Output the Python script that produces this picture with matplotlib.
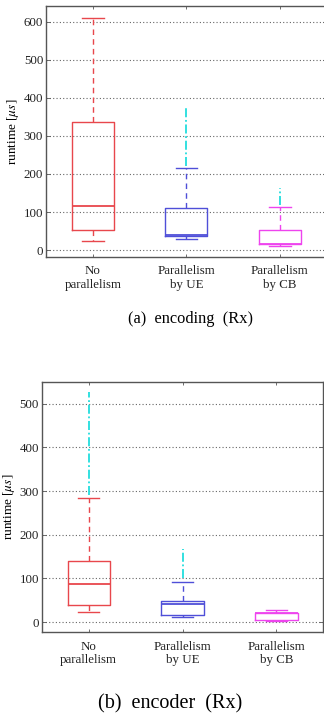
import matplotlib
matplotlib.use('Agg')
import matplotlib.pyplot as plt

plt.rcParams['font.family'] = ['Liberation Serif', 'DejaVu Serif']
plt.rcParams['mathtext.fontset'] = 'stix'

# categories
labels = ['No\nparallelism', 'Parallelism\nby UE', 'Parallelism\nby CB']
colors = ['#e8474c', '#4f4fd8', '#ee44ee']
flier_color = '#22dddd'

# (a) encoding (Rx) -- box statistics [us]
enc_whislo = [24, 28, 10]
enc_q1 = [54, 38, 17]
enc_med = [116, 41, 17]
enc_q3 = [337, 111, 54]
enc_whishi = [609, 217, 112]
enc_flier_lo = [None, 220, 118]
enc_flier_hi = [None, 375, 162]

# (b) encoder (Rx)
dec_whislo = [24, 13, 3]
dec_q1 = [39, 17, 5]
dec_med = [88, 41, 20]
dec_q3 = [139, 49, 22]
dec_whishi = [284, 93, 28]
dec_flier_lo = [290, 100, None]
dec_flier_hi = [526, 168, None]


def draw_box(ax, whislo, q1, med, q3, whishi, flo, fhi, ylim, yticks):
    stats = []
    for i in range(len(labels)):
        stats.append({'whislo': whislo[i], 'q1': q1[i], 'med': med[i],
                      'q3': q3[i], 'whishi': whishi[i], 'fliers': []})
    pos = [1, 2, 3]
    art = ax.bxp(stats, positions=pos, widths=0.45, capwidths=0.23,
                 showfliers=False, patch_artist=False,
                 whiskerprops=dict(linestyle=(0, (4, 3)), linewidth=1.0),
                 capprops=dict(linewidth=1.0),
                 boxprops=dict(linewidth=1.0),
                 medianprops=dict(linewidth=1.3))
    for i, c in enumerate(colors):
        art['boxes'][i].set_color(c)
        art['medians'][i].set_color(c)
        art['whiskers'][2 * i].set_color(c)
        art['whiskers'][2 * i + 1].set_color(c)
        art['caps'][2 * i].set_color(c)
        art['caps'][2 * i + 1].set_color(c)
        if flo[i] is not None:
            ax.vlines(pos[i], flo[i], fhi[i], colors=flier_color,
                      linestyles=(0, (5, 1.5, 1, 1.5)), linewidth=1.3, zorder=3)
    ax.set_xlim(0.5, 3.5)
    ax.set_ylim(*ylim)
    ax.set_yticks(yticks)
    ax.set_xticks(pos)
    ax.set_xticklabels(labels, fontsize=9.3, linespacing=1.2)
    ax.tick_params(axis='both', direction='in', length=3, width=0.6,
                   colors='#555555', labelcolor='#222222', labelsize=9.3,
                   top=True, right=True)
    ax.tick_params(axis='x', pad=6, length=2)
    ax.tick_params(axis='y', pad=2)
    ax.yaxis.grid(True, linestyle=(0, (1, 2)), color='#666666', linewidth=0.8)
    ax.set_axisbelow(True)
    for s in ax.spines.values():
        s.set_color('#555555')
        s.set_linewidth(1.0)
    ax.set_ylabel(r'runtime [$\mu s$]', fontsize=9.5, labelpad=2)


fig = plt.figure(figsize=(3.24, 7.15), dpi=100)

ax1 = fig.add_axes([0.142, 0.6406, 0.866, 0.3514])
draw_box(ax1, enc_whislo, enc_q1, enc_med, enc_q3, enc_whishi,
         enc_flier_lo, enc_flier_hi, (-18, 642), [0, 100, 200, 300, 400, 500, 600])

ax2 = fig.add_axes([0.1287, 0.1157, 0.8693, 0.3505])
draw_box(ax2, dec_whislo, dec_q1, dec_med, dec_q3, dec_whishi,
         dec_flier_lo, dec_flier_hi, (-23, 550), [0, 100, 200, 300, 400, 500])

fig.text(0.587, 1 - 319 / 715, '(a)  encoding  (Rx)', ha='center', va='center', fontsize=11.8)
fig.text(0.525, 1 - 704 / 715, '(b)  encoder  (Rx)', ha='center', va='center', fontsize=14.5)

fig.savefig('out.png', dpi=100)
